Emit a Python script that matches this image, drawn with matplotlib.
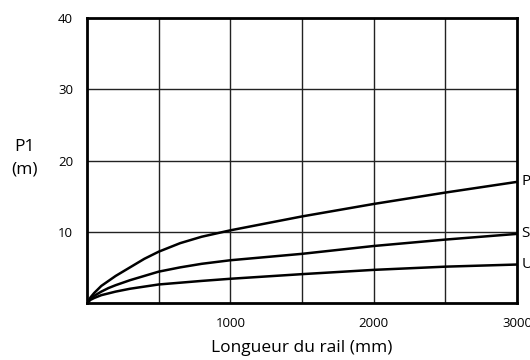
import numpy as np
import matplotlib
matplotlib.use('Agg')
import matplotlib.pyplot as plt

plt.rcParams['font.family'] = ['Open Sans', 'DejaVu Sans']

# Rail length (mm) and P1 (m) for each curve
length_mm = [0, 25, 50, 100, 150, 200, 300, 400, 500, 650, 800, 1000, 1500, 2000, 2500, 3000]
p_curve = [0, 0.8, 1.4, 2.4, 3.1, 3.8, 5.0, 6.2, 7.2, 8.4, 9.3, 10.2, 12.15, 13.9, 15.5, 17.0]
s_curve = [0, 0.6, 1.0, 1.6, 2.1, 2.5, 3.2, 3.8, 4.4, 5.0, 5.5, 6.0, 6.9, 8.0, 8.9, 9.7]
u_curve = [0, 0.45, 0.7, 1.1, 1.35, 1.6, 2.0, 2.3, 2.6, 2.85, 3.1, 3.4, 4.05, 4.65, 5.1, 5.4]
curve_names = ['P', 'S', 'U']

x_ticks = [1000, 2000, 3000]
y_ticks = [10, 20, 30, 40]

fig = plt.figure(figsize=(5.3, 3.6), dpi=100)
ax = fig.add_axes([87 / 530, 57 / 360, 430 / 530, 285 / 360])

# grid every 500 mm / 10 m
for gx in np.arange(500, 3000, 500):
    ax.axvline(gx, color='#222222', lw=1.0, zorder=1)
for gy in np.arange(10, 40, 10):
    ax.axhline(gy, color='#222222', lw=1.0, zorder=1)

for ys, name in zip([p_curve, s_curve, u_curve], curve_names):
    ax.plot(length_mm, ys, color='black', lw=1.8, zorder=3,
            solid_capstyle='round', solid_joinstyle='round')
    # curve letters sit just past the right frame
    ax.text(3000 + 30, ys[-1], name, fontsize=11, va='center', ha='left', clip_on=False)

ax.set_xlim(0, 3000)
ax.set_ylim(0, 40)
ax.set_xticks(x_ticks)
ax.set_yticks(y_ticks)
ax.tick_params(length=0, labelsize=9.5)
ax.tick_params(axis='x', pad=10)
ax.tick_params(axis='y', pad=10)
for sp in ax.spines.values():
    sp.set_linewidth(2)

ax.set_xlabel('Longueur du rail (mm)', fontsize=12.5, labelpad=7)
fig.text(24 / 530, 1 - 147 / 360, 'P1', fontsize=12.5, ha='center', va='center')
fig.text(24 / 530, 1 - 170 / 360, '(m)', fontsize=12.5, ha='center', va='center')

fig.savefig('out.png', dpi=100)
